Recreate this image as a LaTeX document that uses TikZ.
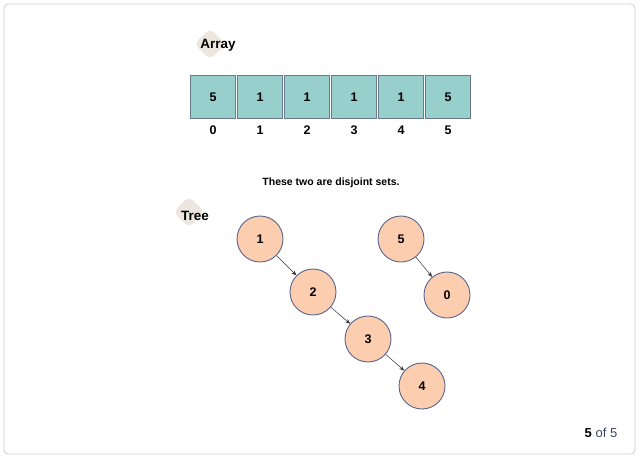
\documentclass[tikz,border=0pt]{standalone}
\usepackage{fontspec}
\setmainfont{Liberation Sans}
\usetikzlibrary{arrows.meta, positioning}
\definecolor{cellteal}{HTML}{96CFCB}
\definecolor{cellline}{HTML}{6A7A8E}
\definecolor{nodepeach}{HTML}{FDCDB0}
\definecolor{nodeline}{HTML}{56648A}
\definecolor{tagbeige}{HTML}{ECE6DF}
\definecolor{framegray}{HTML}{CCCCCC}
\definecolor{pagegray}{HTML}{3A4660}

\begin{document}
\begin{tikzpicture}[x=1pt, y=-1pt, >={Stealth[length=5pt,width=4pt]},
    cell/.style={draw=cellline, fill=cellteal, line width=0.9pt, minimum width=45pt, minimum height=43pt, inner sep=0pt, font=\fontsize{12.5}{14}\selectfont\bfseries},
    idx/.style={font=\fontsize{12.5}{14}\selectfont\bfseries},
    vertex/.style={circle, draw=nodeline, fill=nodepeach, line width=0.9pt, minimum size=46pt, inner sep=0pt, font=\fontsize{12.5}{14}\selectfont\bfseries},
    tag/.style={fill=tagbeige, rounded corners=5pt, rotate=45, minimum size=22pt, inner sep=0pt},
    title/.style={font=\fontsize{13.5}{15}\selectfont\bfseries},
    link/.style={->, draw=black!80, line width=0.5pt}]
\useasboundingbox (0,0) rectangle (640,459);
\draw[framegray, line width=0.8pt, rounded corners=4pt] (4,4) rectangle (635,454);

% array
\node[tag] at (210,44) {};
\node[title] (arr) at (218,45) {Array};
\foreach \i/\v in {0/5,1/1,2/1,3/1,4/1,5/5}
{
    \node[cell] (c\i) at (213+47*\i, 97) {\v};
    \node[idx] (i\i) at (213+47*\i, 130) {\i};
}
\node[font=\fontsize{10.5}{12}\selectfont\bfseries] (note) at (331,183) {These two are disjoint sets.};

% tree
\node[tag] at (189,212) {};
\node[title] (tree) at (195,216) {Tree};
\node[vertex] (n1) at (260,239) {1};
\node[vertex] (n2) at (313,292) {2};
\node[vertex] (n3) at (368,339) {3};
\node[vertex] (n4) at (422,386) {4};
\node[vertex] (n5) at (401,239) {5};
\node[vertex] (n0) at (447,295) {0};
\draw[link] (n1) -- (n2);
\draw[link] (n2) -- (n3);
\draw[link] (n3) -- (n4);
\draw[link] (n5) -- (n0);

\node[font=\fontsize{13}{15}\selectfont, text=pagegray] (page) at (601,433) {{\color{black}\bfseries 5} of 5};
\end{tikzpicture}
\end{document}
